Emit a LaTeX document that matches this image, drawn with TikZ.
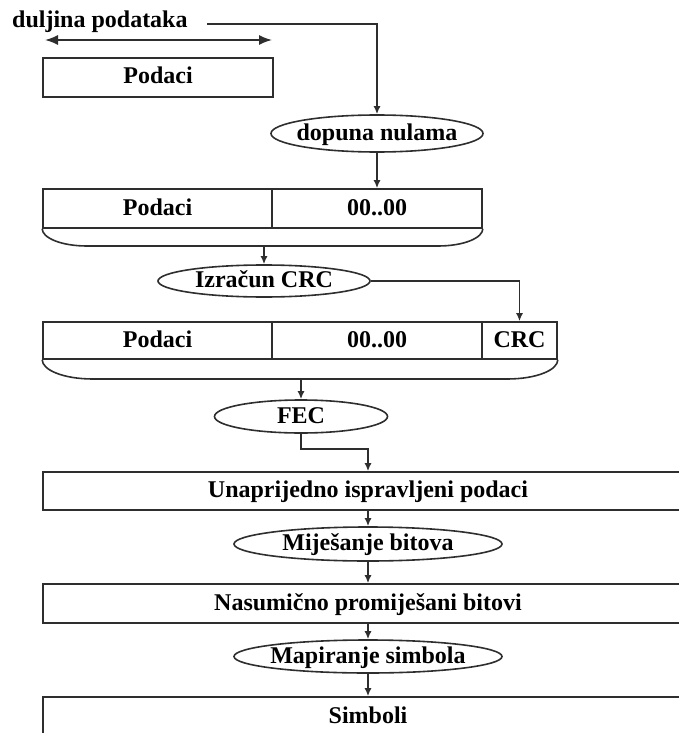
\documentclass[tikz,border=0pt]{standalone}
\usepackage{fontspec}
\setmainfont{Liberation Serif}
\usetikzlibrary{shapes.geometric,arrows.meta}
\begin{document}
\begin{tikzpicture}[x=1pt,y=-1pt,
  lbl/.style={font=\fontsize{24}{28}\selectfont\bfseries, text=black, inner sep=0pt,
              text height=16pt, text depth=3pt},
  pen/.style={draw=black!82, line width=1.6pt},
  cell/.style={lbl, pen, rectangle},
  oval/.style={lbl, pen, ellipse},
  arr/.style={pen, -{Latex[length=8pt,width=7pt]}},
  span/.style={pen, {Latex[length=13pt,width=10pt]}-{Latex[length=13pt,width=10pt]}},
]
\useasboundingbox (0,0) rectangle (679,733);
\clip (0,0) rectangle (679,733);

% data length label and its span
\node[lbl, anchor=base west] (len) at (12,28) {duljina podataka};
\coordinate (lenA) at (207,24);
\coordinate (lenB) at (377,24);
\coordinate (spanL) at (45,40);
\coordinate (spanR) at (272,40);
\draw[span] (spanL) -- (spanR);

% raw data
\node[cell, minimum width=230, minimum height=39] (d1) at (158,77.5) {Podaci};

% zero padding
\node[oval, minimum width=212, minimum height=37] (pad) at (377,133.5) {\makebox[0pt]{dopuna nulama}};
\draw[arr] (lenA) -- (lenB) -- (pad.north);

% padded frame
\node[cell, minimum width=229, minimum height=39] (d2) at (157.5,208.5) {Podaci};
\node[cell, minimum width=210, minimum height=39] (z2) at (377,208.5) {00..00};
\draw[arr] (pad.south) -- (z2.north);
\coordinate (t2L) at (87,246);
\coordinate (t2R) at (438,246);
\draw[pen] (d2.south west) .. controls +(0,9) and +(-26,0) .. (t2L) -- (t2R)
  .. controls +(26,0) and +(0,9) .. (z2.south east);
\coordinate (t2) at (264,246);

% CRC computation
\node[oval, minimum width=212, minimum height=32] (crc) at (264,281) {\makebox[0pt]{Izračun CRC}};
\draw[arr] (t2) -- (crc.north);

% frame with CRC
\node[cell, minimum width=229, minimum height=37] (d3) at (157.5,340.5) {Podaci};
\node[cell, minimum width=210, minimum height=37] (z3) at (377,340.5) {00..00};
\node[cell, minimum width=75, minimum height=37] (c3) at (519.5,340.5) {CRC};
\draw[arr] (crc.east) -| (c3.north);
\coordinate (t3L) at (93,379);
\coordinate (t3R) at (507,379);
\draw[pen] (d3.south west) .. controls +(0,10) and +(-30,0) .. (t3L) -- (t3R)
  .. controls +(30,0) and +(0,10) .. (c3.south east);
\coordinate (t3) at (301,379);

% forward error correction
\node[oval, minimum width=173, minimum height=33] (fec) at (301,416.5) {\makebox[0pt]{FEC}};
\draw[arr] (t3) -- (fec.north);
\node[cell, minimum width=650, minimum height=38] (ufd) at (368,491) {Unaprijedno ispravljeni podaci};
\draw[arr] (fec.south) -- ++(0,15) -| (ufd.north);

% scrambling
\node[oval, minimum width=268, minimum height=34] (mix) at (368,544) {\makebox[0pt]{Miješanje bitova}};
\draw[arr] (ufd.south) -- (mix.north);
\node[cell, minimum width=650, minimum height=39] (scr) at (368,603.5) {Nasumično promiješani bitovi};
\draw[arr] (mix.south) -- (scr.north);

% symbol mapping
\node[oval, minimum width=268, minimum height=33] (map) at (368,656.5) {\makebox[0pt]{Mapiranje simbola}};
\draw[arr] (scr.south) -- (map.north);
\node[cell, minimum width=650, minimum height=40] (sym) at (368,717) {Simboli};
\draw[arr] (map.south) -- (sym.north);
\end{tikzpicture}
\end{document}
